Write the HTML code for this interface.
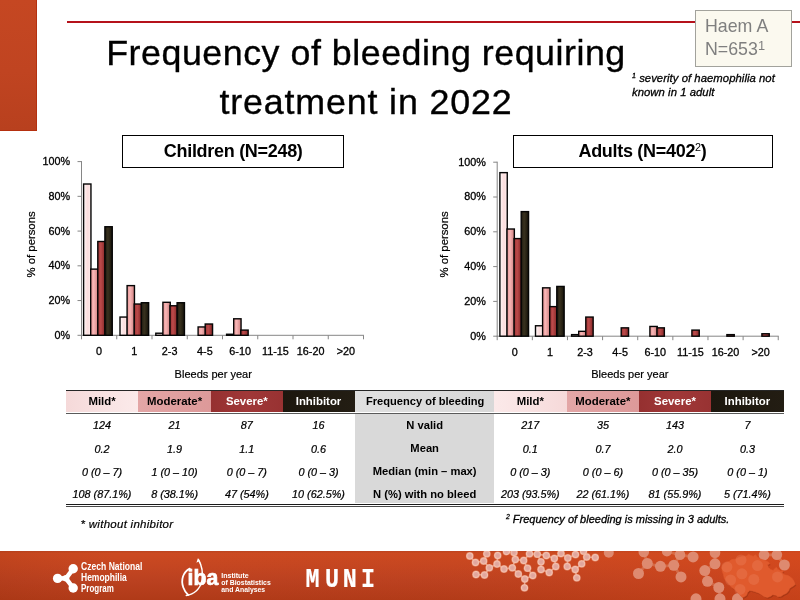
<!DOCTYPE html>
<html lang="en">
<head>
<meta charset="utf-8">
<title>Frequency of bleeding requiring treatment in 2022</title>
<style>
*{box-sizing:border-box;margin:0;padding:0}
html,body{width:800px;height:600px;overflow:hidden;background:#fff}
body{font-family:"Liberation Sans",sans-serif;color:#000;position:relative}
.abs{position:absolute}
#leftbar{left:0;top:0;width:37.4px;height:130.7px;background:linear-gradient(180deg,#c54722 0%,#c04421 55%,#b8401e 100%);border-right:0.9px solid #b5300f;border-bottom:0.9px solid #b5300f}
#topline{left:67px;top:21px;width:733px;height:2px;background:#b5121b}
#title{left:61px;top:29px;width:610px;text-align:center;font-size:35.8px;line-height:48.75px;letter-spacing:0.52px;white-space:nowrap}
#haem{left:695px;top:10px;width:97px;height:57px;background:#fbf9ef;border:1px solid #a2a29c;color:#7f7f7f;font-size:17.8px;line-height:23.7px;padding:3.6px 0 0 9px;white-space:nowrap}
sup{font-size:62%;vertical-align:baseline;position:relative;top:-0.5em}
#fn1{left:632px;top:71.7px;font-size:11.3px;line-height:13.5px;font-style:italic;white-space:nowrap;letter-spacing:0.05px}
.ctitle{height:33px;border:1.2px solid #000;background:#fff;text-align:center;font-weight:bold;font-size:18px;letter-spacing:-0.3px;line-height:30.5px;white-space:nowrap}
.ctitle sup{font-weight:normal;font-size:60%;top:-0.55em}
#ct1{left:122.3px;top:135px;width:221.8px}
#ct2{left:513.2px;top:135px;width:259.6px;padding-right:1px}
svg{font-family:"Liberation Sans",sans-serif}
.mono{font-family:"Liberation Mono",monospace;font-weight:bold}
#tbl{left:66px;top:389px;width:718px;height:118px}
.hd{position:absolute;height:21px;text-align:center;font-weight:bold;font-size:11.4px;line-height:21px;white-space:nowrap}
.hd.w{font-size:11.1px;padding-left:2px}
.c{position:absolute;height:23px;text-align:center;font-style:italic;font-size:10.8px;line-height:23px;white-space:nowrap}
.g{position:absolute;height:23px;text-align:center;font-weight:bold;font-size:11.2px;line-height:23px;white-space:nowrap;padding-left:1px}
#fn2{left:80.5px;top:516.7px;letter-spacing:0.28px;font-size:11.5px;line-height:14px;font-style:italic;white-space:nowrap}
#fn3{left:506px;top:511.6px;font-size:11px;line-height:14px;font-style:italic;white-space:nowrap}
#footer{left:0;top:551px;width:800px;height:49px;background:linear-gradient(180deg,#c5441f 0%,#c8471f 30%,#bd411d 100%);overflow:hidden}
#fn1,#fn3{-webkit-text-stroke:0.3px #000}
.c{-webkit-text-stroke:0.22px #000}
#fn2{-webkit-text-stroke:0.2px #000}
#title{-webkit-text-stroke:0.35px #000}
#haem sup{font-size:72%;top:-0.38em}
</style>
</head>
<body>
<div class="abs" id="leftbar"></div>
<div class="abs" id="topline"></div>
<div class="abs" id="title">Frequency of bleeding requiring<br><span style="letter-spacing:0.85px">treatment in 2022</span></div>
<div class="abs" id="haem">Haem A<br>N=653<sup>1</sup></div>
<div class="abs" id="fn1"><sup>1</sup> severity of haemophilia not<br>known in 1 adult</div>
<div class="abs ctitle" id="ct1">Children (N=248)</div>
<div class="abs ctitle" id="ct2">Adults (N=402<sup>2</sup>)</div>
<svg class="abs" style="left:0;top:130px" width="800" height="260" viewBox="0 130 800 260">
<defs>
<linearGradient id="g0" x1="0" x2="1" y1="0" y2="0"><stop offset="0" stop-color="#fffafa"/><stop offset="0.3" stop-color="#fde8e8"/><stop offset="0.55" stop-color="#fbdddd"/><stop offset="0.85" stop-color="#fde8e8"/><stop offset="1" stop-color="#fff4f4"/></linearGradient>
<linearGradient id="g1" x1="0" x2="1" y1="0" y2="0"><stop offset="0" stop-color="#e69494"/><stop offset="0.4" stop-color="#f8b6b6"/><stop offset="1" stop-color="#cf8080"/></linearGradient>
<linearGradient id="g2" x1="0" x2="1" y1="0" y2="0"><stop offset="0" stop-color="#9a3232"/><stop offset="0.4" stop-color="#bd4b4b"/><stop offset="1" stop-color="#842727"/></linearGradient>
<linearGradient id="g3" x1="0" x2="1" y1="0" y2="0"><stop offset="0" stop-color="#1d180e"/><stop offset="0.4" stop-color="#39321f"/><stop offset="1" stop-color="#17130a"/></linearGradient>
</defs>
<line x1="81.5" y1="161.1" x2="81.5" y2="335.8" stroke="#868686" stroke-width="1"/>
<line x1="81.0" y1="335.3" x2="364.0" y2="335.3" stroke="#868686" stroke-width="1"/>
<g font-size="10.8" stroke="#000" stroke-width="0.3">
<line x1="77.5" y1="335.30" x2="81.5" y2="335.30" stroke="#868686" stroke-width="1"/>
<text x="70.20" y="338.75" text-anchor="end">0%</text>
<line x1="77.5" y1="300.56" x2="81.5" y2="300.56" stroke="#868686" stroke-width="1"/>
<text x="70.20" y="304.01" text-anchor="end">20%</text>
<line x1="77.5" y1="265.82" x2="81.5" y2="265.82" stroke="#868686" stroke-width="1"/>
<text x="70.20" y="269.27" text-anchor="end">40%</text>
<line x1="77.5" y1="231.08" x2="81.5" y2="231.08" stroke="#868686" stroke-width="1"/>
<text x="70.20" y="234.53" text-anchor="end">60%</text>
<line x1="77.5" y1="196.34" x2="81.5" y2="196.34" stroke="#868686" stroke-width="1"/>
<text x="70.20" y="199.79" text-anchor="end">80%</text>
<line x1="77.5" y1="161.60" x2="81.5" y2="161.60" stroke="#868686" stroke-width="1"/>
<text x="70.20" y="165.05" text-anchor="end">100%</text>
<line x1="81.50" y1="335.3" x2="81.50" y2="339.3" stroke="#868686" stroke-width="1"/>
<line x1="116.75" y1="335.3" x2="116.75" y2="339.3" stroke="#868686" stroke-width="1"/>
<line x1="152.00" y1="335.3" x2="152.00" y2="339.3" stroke="#868686" stroke-width="1"/>
<line x1="187.25" y1="335.3" x2="187.25" y2="339.3" stroke="#868686" stroke-width="1"/>
<line x1="222.50" y1="335.3" x2="222.50" y2="339.3" stroke="#868686" stroke-width="1"/>
<line x1="257.75" y1="335.3" x2="257.75" y2="339.3" stroke="#868686" stroke-width="1"/>
<line x1="293.00" y1="335.3" x2="293.00" y2="339.3" stroke="#868686" stroke-width="1"/>
<line x1="328.25" y1="335.3" x2="328.25" y2="339.3" stroke="#868686" stroke-width="1"/>
<line x1="363.50" y1="335.3" x2="363.50" y2="339.3" stroke="#868686" stroke-width="1"/>
<text x="99.12" y="355.00" text-anchor="middle">0</text>
<text x="134.38" y="355.00" text-anchor="middle">1</text>
<text x="169.62" y="355.00" text-anchor="middle">2-3</text>
<text x="204.88" y="355.00" text-anchor="middle">4-5</text>
<text x="240.12" y="355.00" text-anchor="middle">6-10</text>
<text x="275.38" y="355.00" text-anchor="middle">11-15</text>
<text x="310.62" y="355.00" text-anchor="middle">16-20</text>
<text x="345.88" y="355.00" text-anchor="middle">&gt;20</text>
</g>
<rect x="83.60" y="184.01" width="7.35" height="151.29" fill="url(#g0)" stroke="#050505" stroke-width="1.4"/>
<rect x="90.70" y="269.12" width="7.35" height="66.18" fill="url(#g1)" stroke="#050505" stroke-width="1.4"/>
<rect x="97.80" y="241.50" width="7.35" height="93.80" fill="url(#g2)" stroke="#050505" stroke-width="1.4"/>
<rect x="104.90" y="226.74" width="7.35" height="108.56" fill="url(#g3)" stroke="#050505" stroke-width="1.4"/>
<rect x="120.00" y="317.06" width="7.35" height="18.24" fill="url(#g0)" stroke="#050505" stroke-width="1.4"/>
<rect x="127.10" y="285.62" width="7.35" height="49.68" fill="url(#g1)" stroke="#050505" stroke-width="1.4"/>
<rect x="134.20" y="304.03" width="7.35" height="31.27" fill="url(#g2)" stroke="#050505" stroke-width="1.4"/>
<rect x="141.30" y="302.73" width="7.35" height="32.57" fill="url(#g3)" stroke="#050505" stroke-width="1.4"/>
<rect x="155.80" y="333.22" width="7.35" height="2.08" fill="url(#g0)" stroke="#050505" stroke-width="1.4"/>
<rect x="162.90" y="302.30" width="7.35" height="33.00" fill="url(#g1)" stroke="#050505" stroke-width="1.4"/>
<rect x="170.00" y="305.77" width="7.35" height="29.53" fill="url(#g2)" stroke="#050505" stroke-width="1.4"/>
<rect x="177.10" y="302.73" width="7.35" height="32.57" fill="url(#g3)" stroke="#050505" stroke-width="1.4"/>
<rect x="198.10" y="326.96" width="7.35" height="8.34" fill="url(#g1)" stroke="#050505" stroke-width="1.4"/>
<rect x="205.20" y="324.01" width="7.35" height="11.29" fill="url(#g2)" stroke="#050505" stroke-width="1.4"/>
<rect x="226.60" y="334.26" width="7.35" height="1.04" fill="url(#g0)" stroke="#050505" stroke-width="1.4"/>
<rect x="233.70" y="318.80" width="7.35" height="16.50" fill="url(#g1)" stroke="#050505" stroke-width="1.4"/>
<rect x="240.80" y="330.09" width="7.35" height="5.21" fill="url(#g2)" stroke="#050505" stroke-width="1.4"/>
<g font-size="11.2" stroke="#000" stroke-width="0.2">
<text x="174.60" y="377.50" textLength="77.3" lengthAdjust="spacingAndGlyphs">Bleeds per year</text>
<text transform="translate(34.6,277.40) rotate(-90)" textLength="66" lengthAdjust="spacingAndGlyphs">% of persons</text>
</g>
<line x1="497.2" y1="161.7" x2="497.2" y2="336.7" stroke="#868686" stroke-width="1"/>
<line x1="496.7" y1="336.2" x2="778.74" y2="336.2" stroke="#868686" stroke-width="1"/>
<g font-size="10.8" stroke="#000" stroke-width="0.3">
<line x1="493.2" y1="336.20" x2="497.2" y2="336.20" stroke="#868686" stroke-width="1"/>
<text x="485.90" y="339.65" text-anchor="end">0%</text>
<line x1="493.2" y1="301.40" x2="497.2" y2="301.40" stroke="#868686" stroke-width="1"/>
<text x="485.90" y="304.85" text-anchor="end">20%</text>
<line x1="493.2" y1="266.60" x2="497.2" y2="266.60" stroke="#868686" stroke-width="1"/>
<text x="485.90" y="270.05" text-anchor="end">40%</text>
<line x1="493.2" y1="231.80" x2="497.2" y2="231.80" stroke="#868686" stroke-width="1"/>
<text x="485.90" y="235.25" text-anchor="end">60%</text>
<line x1="493.2" y1="197.00" x2="497.2" y2="197.00" stroke="#868686" stroke-width="1"/>
<text x="485.90" y="200.45" text-anchor="end">80%</text>
<line x1="493.2" y1="162.20" x2="497.2" y2="162.20" stroke="#868686" stroke-width="1"/>
<text x="485.90" y="165.65" text-anchor="end">100%</text>
<line x1="497.20" y1="336.2" x2="497.20" y2="340.2" stroke="#868686" stroke-width="1"/>
<line x1="532.33" y1="336.2" x2="532.33" y2="340.2" stroke="#868686" stroke-width="1"/>
<line x1="567.46" y1="336.2" x2="567.46" y2="340.2" stroke="#868686" stroke-width="1"/>
<line x1="602.59" y1="336.2" x2="602.59" y2="340.2" stroke="#868686" stroke-width="1"/>
<line x1="637.72" y1="336.2" x2="637.72" y2="340.2" stroke="#868686" stroke-width="1"/>
<line x1="672.85" y1="336.2" x2="672.85" y2="340.2" stroke="#868686" stroke-width="1"/>
<line x1="707.98" y1="336.2" x2="707.98" y2="340.2" stroke="#868686" stroke-width="1"/>
<line x1="743.11" y1="336.2" x2="743.11" y2="340.2" stroke="#868686" stroke-width="1"/>
<line x1="778.24" y1="336.2" x2="778.24" y2="340.2" stroke="#868686" stroke-width="1"/>
<text x="514.76" y="355.90" text-anchor="middle">0</text>
<text x="549.89" y="355.90" text-anchor="middle">1</text>
<text x="585.02" y="355.90" text-anchor="middle">2-3</text>
<text x="620.15" y="355.90" text-anchor="middle">4-5</text>
<text x="655.28" y="355.90" text-anchor="middle">6-10</text>
<text x="690.41" y="355.90" text-anchor="middle">11-15</text>
<text x="725.55" y="355.90" text-anchor="middle">16-20</text>
<text x="760.67" y="355.90" text-anchor="middle">&gt;20</text>
</g>
<rect x="499.90" y="172.64" width="7.35" height="163.56" fill="url(#g0)" stroke="#050505" stroke-width="1.4"/>
<rect x="507.00" y="229.02" width="7.35" height="107.18" fill="url(#g1)" stroke="#050505" stroke-width="1.4"/>
<rect x="514.10" y="238.59" width="7.35" height="97.61" fill="url(#g2)" stroke="#050505" stroke-width="1.4"/>
<rect x="521.20" y="211.62" width="7.35" height="124.58" fill="url(#g3)" stroke="#050505" stroke-width="1.4"/>
<rect x="535.50" y="325.76" width="7.35" height="10.44" fill="url(#g0)" stroke="#050505" stroke-width="1.4"/>
<rect x="542.60" y="287.83" width="7.35" height="48.37" fill="url(#g1)" stroke="#050505" stroke-width="1.4"/>
<rect x="549.70" y="306.62" width="7.35" height="29.58" fill="url(#g2)" stroke="#050505" stroke-width="1.4"/>
<rect x="556.80" y="286.44" width="7.35" height="49.76" fill="url(#g3)" stroke="#050505" stroke-width="1.4"/>
<rect x="571.60" y="334.63" width="7.35" height="1.57" fill="url(#g0)" stroke="#050505" stroke-width="1.4"/>
<rect x="578.70" y="331.33" width="7.35" height="4.87" fill="url(#g1)" stroke="#050505" stroke-width="1.4"/>
<rect x="585.80" y="317.06" width="7.35" height="19.14" fill="url(#g2)" stroke="#050505" stroke-width="1.4"/>
<rect x="621.20" y="327.85" width="7.35" height="8.35" fill="url(#g2)" stroke="#050505" stroke-width="1.4"/>
<rect x="649.90" y="326.46" width="7.35" height="9.74" fill="url(#g1)" stroke="#050505" stroke-width="1.4"/>
<rect x="657.00" y="327.85" width="7.35" height="8.35" fill="url(#g2)" stroke="#050505" stroke-width="1.4"/>
<rect x="691.90" y="330.11" width="7.35" height="6.09" fill="url(#g2)" stroke="#050505" stroke-width="1.4"/>
<rect x="726.90" y="334.63" width="7.35" height="1.57" fill="url(#g2)" stroke="#050505" stroke-width="1.4"/>
<rect x="761.90" y="333.76" width="7.35" height="2.44" fill="url(#g2)" stroke="#050505" stroke-width="1.4"/>
<g font-size="11.2" stroke="#000" stroke-width="0.2">
<text x="591.20" y="378.40" textLength="77.3" lengthAdjust="spacingAndGlyphs">Bleeds per year</text>
<text transform="translate(448.4,277.40) rotate(-90)" textLength="66" lengthAdjust="spacingAndGlyphs">% of persons</text>
</g>
</svg>
<div class="abs" style="left:65.6px;top:389.5px;width:718.2px;height:1.5px;background:#262626"></div>
<div class="abs" style="left:354.5px;top:413px;width:139.3px;height:90px;background:#d9d9d9"></div>
<div class="hd" style="left:66px;top:391.2px;width:72.6px;padding-right:0.6px;background:linear-gradient(90deg,#f5d9d9 0%,#f9e4e4 60%,#fbeaea 100%);color:#000">Mild*</div>
<div class="hd" style="left:138px;top:391.2px;width:73.8px;padding-right:0.6px;background:linear-gradient(90deg,#e3a6a6 0%,#dd9999 100%);color:#000">Moderate*</div>
<div class="hd" style="left:211.2px;top:391.2px;width:71.9px;padding-right:0.6px;background:linear-gradient(90deg,#953030 0%,#a03838 50%,#983232 100%);color:#fff">Severe*</div>
<div class="hd" style="left:282.5px;top:391.2px;width:72.6px;padding-right:0.6px;background:linear-gradient(90deg,#1c170e 0%,#231d13 100%);color:#fff">Inhibitor</div>
<div class="hd w" style="left:354.5px;top:391.2px;width:139.9px;padding-right:0.6px;background:linear-gradient(90deg,#e0e0e0 0%,#d8d8d8 100%);color:#000">Frequency of bleeding</div>
<div class="hd" style="left:493.8px;top:391.2px;width:73.6px;padding-right:0.6px;background:linear-gradient(90deg,#fbe9e9 0%,#f9e2e2 50%,#f6d9d9 100%);color:#000">Mild*</div>
<div class="hd" style="left:566.8px;top:391.2px;width:72.8px;padding-right:0.6px;background:linear-gradient(90deg,#e3a6a6 0%,#dd9999 100%);color:#000">Moderate*</div>
<div class="hd" style="left:639px;top:391.2px;width:72.6px;padding-right:0.6px;background:linear-gradient(90deg,#953030 0%,#a03838 50%,#983232 100%);color:#fff">Severe*</div>
<div class="hd" style="left:711px;top:391.2px;width:73.4px;padding-right:0.6px;background:linear-gradient(90deg,#1c170e 0%,#231d13 100%);color:#fff">Inhibitor</div>
<div class="abs" style="left:66px;top:412.6px;width:717.8px;height:1px;background:#5a5a5a"></div>
<div class="c" style="left:66px;top:414.0px;width:72.0px">124</div>
<div class="c" style="left:138px;top:414.0px;width:73.2px">21</div>
<div class="c" style="left:211.2px;top:414.0px;width:71.3px">87</div>
<div class="c" style="left:282.5px;top:414.0px;width:72.0px">16</div>
<div class="g" style="left:354.5px;top:414.0px;width:139.3px">N valid</div>
<div class="c" style="left:493.8px;top:414.0px;width:73.0px">217</div>
<div class="c" style="left:566.8px;top:414.0px;width:72.2px">35</div>
<div class="c" style="left:639px;top:414.0px;width:72.0px">143</div>
<div class="c" style="left:711px;top:414.0px;width:72.8px">7</div>
<div class="c" style="left:66px;top:438.0px;width:72.0px">0.2</div>
<div class="c" style="left:138px;top:438.0px;width:73.2px">1.9</div>
<div class="c" style="left:211.2px;top:438.0px;width:71.3px">1.1</div>
<div class="c" style="left:282.5px;top:438.0px;width:72.0px">0.6</div>
<div class="g" style="left:354.5px;top:437.0px;width:139.3px">Mean</div>
<div class="c" style="left:493.8px;top:438.0px;width:73.0px">0.1</div>
<div class="c" style="left:566.8px;top:438.0px;width:72.2px">0.7</div>
<div class="c" style="left:639px;top:438.0px;width:72.0px">2.0</div>
<div class="c" style="left:711px;top:438.0px;width:72.8px">0.3</div>
<div class="c" style="left:66px;top:460.5px;width:72.0px">0 (0 – 7)</div>
<div class="c" style="left:138px;top:460.5px;width:73.2px">1 (0 – 10)</div>
<div class="c" style="left:211.2px;top:460.5px;width:71.3px">0 (0 – 7)</div>
<div class="c" style="left:282.5px;top:460.5px;width:72.0px">0 (0 – 3)</div>
<div class="g" style="left:354.5px;top:460.0px;width:139.3px">Median (min – max)</div>
<div class="c" style="left:493.8px;top:460.5px;width:73.0px">0 (0 – 3)</div>
<div class="c" style="left:566.8px;top:460.5px;width:72.2px">0 (0 – 6)</div>
<div class="c" style="left:639px;top:460.5px;width:72.0px">0 (0 – 35)</div>
<div class="c" style="left:711px;top:460.5px;width:72.8px">0 (0 – 1)</div>
<div class="c" style="left:66px;top:483.4px;width:72.0px">108 (87.1%)</div>
<div class="c" style="left:138px;top:483.4px;width:73.2px">8 (38.1%)</div>
<div class="c" style="left:211.2px;top:483.4px;width:71.3px">47 (54%)</div>
<div class="c" style="left:282.5px;top:483.4px;width:72.0px">10 (62.5%)</div>
<div class="g" style="left:354.5px;top:483.4px;width:139.3px">N (%) with no bleed</div>
<div class="c" style="left:493.8px;top:483.4px;width:73.0px">203 (93.5%)</div>
<div class="c" style="left:566.8px;top:483.4px;width:72.2px">22 (61.1%)</div>
<div class="c" style="left:639px;top:483.4px;width:72.0px">81 (55.9%)</div>
<div class="c" style="left:711px;top:483.4px;width:72.8px">5 (71.4%)</div>
<div class="abs" style="left:65.6px;top:503.6px;width:718px;height:1px;background:#1a1a1a"></div>
<div class="abs" style="left:65.6px;top:505.8px;width:718px;height:1px;background:#4a4a4a"></div>
<div class="abs" id="fn2">* without inhibitor</div>
<div class="abs" id="fn3"><sup>2</sup> Frequency of bleeding is missing in 3 adults.</div>
<div class="abs" id="footer"><svg width="800" height="49" viewBox="0 551 800 49" style="position:absolute;left:0;top:0">
<defs>
<linearGradient id="fbg" x1="0" x2="0" y1="0" y2="1"><stop offset="0" stop-color="#bb431f"/><stop offset="0.05" stop-color="#cc4a21"/><stop offset="0.3" stop-color="#c54621"/><stop offset="0.6" stop-color="#bb4120"/><stop offset="1" stop-color="#b03a18"/></linearGradient>
<linearGradient id="fbx" x1="0" x2="1" y1="0" y2="0"><stop offset="0" stop-color="#8a2a08" stop-opacity="0.14"/><stop offset="0.15" stop-color="#b03a14" stop-opacity="0"/><stop offset="0.55" stop-color="#d5481c" stop-opacity="0.05"/><stop offset="1" stop-color="#e04a1a" stop-opacity="0.45"/></linearGradient>
<radialGradient id="sc"><stop offset="0" stop-color="#dea39a"/><stop offset="0.5" stop-color="#e4aaa0"/><stop offset="0.78" stop-color="#f4c0ad"/><stop offset="1" stop-color="#f0ae96" stop-opacity="0.7"/></radialGradient>
</defs>
<rect x="0" y="551" width="800" height="49" fill="url(#fbg)"/>
<rect x="0" y="551" width="800" height="49" fill="url(#fbx)"/>
<g stroke="#f0b8a0" stroke-opacity="0.3" stroke-width="2.8">
<line x1="643.8" y1="551.9" x2="647.3" y2="563.5"/>
<line x1="647.3" y1="563.5" x2="638.5" y2="573.5"/>
<line x1="647.3" y1="563.5" x2="660.4" y2="566.3"/>
<line x1="660.4" y1="566.3" x2="673.8" y2="565.3"/>
<line x1="673.8" y1="565.3" x2="680" y2="554.8"/>
<line x1="673.8" y1="565.3" x2="681" y2="576.9"/>
<line x1="680" y1="554.8" x2="693.1" y2="556.9"/>
<line x1="666.9" y1="551.5" x2="680" y2="554.8"/>
<line x1="715" y1="552.8" x2="715" y2="563.8"/>
<line x1="715" y1="563.8" x2="704.8" y2="570.6"/>
<line x1="704.8" y1="570.6" x2="707.5" y2="581.3"/>
<line x1="707.5" y1="581.3" x2="718.8" y2="587.5"/>
<line x1="718.8" y1="587.5" x2="720" y2="598.8"/>
<line x1="764" y1="555" x2="776.9" y2="554.8"/>
<line x1="776.9" y1="554.8" x2="784.4" y2="565"/>
</g>
<g fill="#de8a70">
<circle cx="608.8" cy="552.8" r="5"/>
<circle cx="643.8" cy="551.9" r="5.3"/>
<circle cx="647.3" cy="563.5" r="5.5"/>
<circle cx="638.5" cy="573.5" r="5.5"/>
<circle cx="660.4" cy="566.3" r="5.5"/>
<circle cx="666.9" cy="551.5" r="5"/>
<circle cx="673.8" cy="565.3" r="5.5"/>
<circle cx="680" cy="554.8" r="5.3"/>
<circle cx="681" cy="576.9" r="5.5"/>
<circle cx="693.1" cy="556.9" r="5.5"/>
<circle cx="704.8" cy="570.6" r="5.5"/>
<circle cx="696" cy="598.8" r="5.5"/>
<circle cx="715" cy="552.8" r="5.3"/>
<circle cx="715" cy="563.8" r="5.5"/>
<circle cx="707.5" cy="581.3" r="5.5"/>
<circle cx="718.8" cy="587.5" r="5.5"/>
<circle cx="720" cy="598.8" r="5.5"/>
<circle cx="737.5" cy="598.8" r="5.5"/>
<circle cx="764" cy="555" r="5.3"/>
<circle cx="776.9" cy="554.8" r="5.3"/>
<circle cx="784.4" cy="565" r="5.5"/>
</g>
<polygon points="721.8,568.0 722.8,564.8 725.5,562.7 729.7,561.1 731.8,559.6 736.0,559.0 738.6,557.5 742.3,556.4 746.5,555.9 748.6,554.3 750.7,555.4 753.3,556.4 755.4,554.8 757.5,556.9 759.1,558.5 762.2,559.6 765.4,560.6 768.5,562.2 769.6,563.8 767.5,564.8 768.5,567.4 770.6,569.5 773.2,570.6 774.8,568.5 776.4,567.4 778.0,569.5 780.6,571.1 783.2,570.6 782.2,572.7 784.3,574.8 788.5,575.8 791.6,577.9 793.7,580.6 795.3,584.2 793.7,585.8 791.6,586.9 789.5,588.4 788.5,591.1 786.4,593.2 783.2,594.7 781.1,596.3 778.0,596.8 775.9,595.3 772.7,594.7 770.6,596.3 767.5,597.4 764.3,596.8 762.2,595.3 759.1,593.2 755.9,592.1 752.8,591.1 749.6,590.5 747.5,592.6 746.5,595.3 744.4,596.8 742.3,597.4 740.2,595.3 737.0,592.1 734.9,589.5 731.8,587.4 729.7,585.3 726.5,581.6 724.4,578.5 723.4,574.3 722.3,571.1" fill="#3a0d00" fill-opacity="0.2" transform="translate(1,1.3)"/>
<polygon points="721.8,568.0 722.8,564.8 725.5,562.7 729.7,561.1 731.8,559.6 736.0,559.0 738.6,557.5 742.3,556.4 746.5,555.9 748.6,554.3 750.7,555.4 753.3,556.4 755.4,554.8 757.5,556.9 759.1,558.5 762.2,559.6 765.4,560.6 768.5,562.2 769.6,563.8 767.5,564.8 768.5,567.4 770.6,569.5 773.2,570.6 774.8,568.5 776.4,567.4 778.0,569.5 780.6,571.1 783.2,570.6 782.2,572.7 784.3,574.8 788.5,575.8 791.6,577.9 793.7,580.6 795.3,584.2 793.7,585.8 791.6,586.9 789.5,588.4 788.5,591.1 786.4,593.2 783.2,594.7 781.1,596.3 778.0,596.8 775.9,595.3 772.7,594.7 770.6,596.3 767.5,597.4 764.3,596.8 762.2,595.3 759.1,593.2 755.9,592.1 752.8,591.1 749.6,590.5 747.5,592.6 746.5,595.3 744.4,596.8 742.3,597.4 740.2,595.3 737.0,592.1 734.9,589.5 731.8,587.4 729.7,585.3 726.5,581.6 724.4,578.5 723.4,574.3 722.3,571.1" fill="#e05a2d" stroke="#e05a2d" stroke-width="0.6" stroke-linejoin="round"/>
<g fill="#f6b79c" fill-opacity="0.16">
<circle cx="726.9" cy="566.9" r="5.5"/>
<circle cx="741" cy="560" r="5.5"/>
<circle cx="741.9" cy="573.8" r="5.5"/>
<circle cx="730.6" cy="580" r="5.5"/>
<circle cx="740" cy="589.4" r="5.5"/>
<circle cx="753.8" cy="579.4" r="5.5"/>
<circle cx="757.5" cy="565.6" r="5.5"/>
<circle cx="777.5" cy="576.9" r="5.5"/>
</g>
<g stroke="#f3b9a4" stroke-opacity="0.8" stroke-width="1.6">
<line x1="469.8" y1="556" x2="475.5" y2="562.5"/>
<line x1="475.5" y1="562.5" x2="483.7" y2="561"/>
<line x1="483.7" y1="561" x2="486.8" y2="553.8"/>
<line x1="483.7" y1="561" x2="489.3" y2="567.8"/>
<line x1="476" y1="574.5" x2="484.5" y2="575"/>
<line x1="484.5" y1="575" x2="489.3" y2="567.8"/>
<line x1="489.3" y1="567.8" x2="497" y2="564"/>
<line x1="497" y1="564" x2="497.7" y2="555.5"/>
<line x1="497" y1="564" x2="504" y2="569"/>
<line x1="504" y1="569" x2="512.3" y2="567.8"/>
<line x1="512.3" y1="567.8" x2="515.3" y2="559.5"/>
<line x1="515.3" y1="559.5" x2="514" y2="552.5"/>
<line x1="512.3" y1="567.8" x2="518.3" y2="574"/>
<line x1="518.3" y1="574" x2="524.8" y2="579"/>
<line x1="524.8" y1="579" x2="524.5" y2="587.8"/>
<line x1="524.8" y1="579" x2="532.8" y2="575.5"/>
<line x1="515.3" y1="559.5" x2="523.7" y2="560.5"/>
<line x1="523.7" y1="560.5" x2="527.5" y2="568.2"/>
<line x1="523.7" y1="560.5" x2="529.5" y2="553.8"/>
<line x1="529.5" y1="553.8" x2="537.3" y2="554.2"/>
<line x1="537.3" y1="554.2" x2="541" y2="561.8"/>
<line x1="537.3" y1="554.2" x2="546.3" y2="555.5"/>
<line x1="541" y1="561.8" x2="541" y2="569.5"/>
<line x1="541" y1="569.5" x2="549.2" y2="572.5"/>
<line x1="546.3" y1="555.5" x2="554.3" y2="558.5"/>
<line x1="554.3" y1="558.5" x2="555.8" y2="566.5"/>
<line x1="554.3" y1="558.5" x2="561" y2="553.5"/>
<line x1="555.8" y1="566.5" x2="549.2" y2="572.5"/>
<line x1="567.2" y1="566.5" x2="567.8" y2="558"/>
<line x1="567.8" y1="558" x2="561" y2="553.5"/>
<line x1="567.2" y1="566.5" x2="575.2" y2="569.5"/>
<line x1="575.2" y1="569.5" x2="576.8" y2="577.8"/>
<line x1="575.2" y1="569.5" x2="581.7" y2="563.8"/>
<line x1="581.7" y1="563.8" x2="586.7" y2="557"/>
<line x1="586.7" y1="557" x2="595.2" y2="557.5"/>
<line x1="586.7" y1="557" x2="583.5" y2="551.2"/>
<line x1="567.8" y1="558" x2="575.5" y2="554.5"/>
<line x1="527.5" y1="568.2" x2="532.8" y2="575.5"/>
</g>
<g>
<circle cx="469.8" cy="556" r="3.9" fill="url(#sc)"/>
<circle cx="475.5" cy="562.5" r="3.9" fill="url(#sc)"/>
<circle cx="476" cy="574.5" r="3.9" fill="url(#sc)"/>
<circle cx="483.7" cy="561" r="3.9" fill="url(#sc)"/>
<circle cx="484.5" cy="575" r="3.9" fill="url(#sc)"/>
<circle cx="486.8" cy="553.8" r="3.9" fill="url(#sc)"/>
<circle cx="489.3" cy="567.8" r="3.9" fill="url(#sc)"/>
<circle cx="497" cy="564" r="3.9" fill="url(#sc)"/>
<circle cx="497.7" cy="555.5" r="3.9" fill="url(#sc)"/>
<circle cx="504" cy="569" r="3.9" fill="url(#sc)"/>
<circle cx="506.5" cy="551.5" r="3.9" fill="url(#sc)"/>
<circle cx="512.3" cy="567.8" r="3.9" fill="url(#sc)"/>
<circle cx="514" cy="552.5" r="3.9" fill="url(#sc)"/>
<circle cx="515.3" cy="559.5" r="3.9" fill="url(#sc)"/>
<circle cx="518.3" cy="574" r="3.9" fill="url(#sc)"/>
<circle cx="523.7" cy="560.5" r="3.9" fill="url(#sc)"/>
<circle cx="524.8" cy="579" r="3.9" fill="url(#sc)"/>
<circle cx="524.5" cy="587.8" r="3.9" fill="url(#sc)"/>
<circle cx="527.5" cy="568.2" r="3.9" fill="url(#sc)"/>
<circle cx="529.5" cy="553.8" r="3.9" fill="url(#sc)"/>
<circle cx="532.8" cy="575.5" r="3.9" fill="url(#sc)"/>
<circle cx="537.3" cy="554.2" r="3.9" fill="url(#sc)"/>
<circle cx="541" cy="561.8" r="3.9" fill="url(#sc)"/>
<circle cx="541" cy="569.5" r="3.9" fill="url(#sc)"/>
<circle cx="546.3" cy="555.5" r="3.9" fill="url(#sc)"/>
<circle cx="549.2" cy="572.5" r="3.9" fill="url(#sc)"/>
<circle cx="554.3" cy="558.5" r="3.9" fill="url(#sc)"/>
<circle cx="555.8" cy="566.5" r="3.9" fill="url(#sc)"/>
<circle cx="561" cy="553.5" r="3.9" fill="url(#sc)"/>
<circle cx="567.2" cy="566.5" r="3.9" fill="url(#sc)"/>
<circle cx="567.8" cy="558" r="3.9" fill="url(#sc)"/>
<circle cx="575.2" cy="569.5" r="3.9" fill="url(#sc)"/>
<circle cx="575.5" cy="554.5" r="3.9" fill="url(#sc)"/>
<circle cx="576.8" cy="577.8" r="3.9" fill="url(#sc)"/>
<circle cx="581.7" cy="563.8" r="3.9" fill="url(#sc)"/>
<circle cx="583.5" cy="551.2" r="3.9" fill="url(#sc)"/>
<circle cx="586.7" cy="557" r="3.9" fill="url(#sc)"/>
<circle cx="595.2" cy="557.5" r="3.9" fill="url(#sc)"/>
</g>
<g fill="#fff" stroke="none">
<circle cx="73.2" cy="568.8" r="4.7"/><circle cx="57.6" cy="578.4" r="4.7"/><circle cx="73.2" cy="588" r="4.7"/><circle cx="66" cy="578.3" r="3.3"/>
</g>
<g stroke="#fff" stroke-width="4.5" stroke-linecap="round" fill="none"><line x1="66" y1="578.3" x2="73.2" y2="568.8"/><line x1="66" y1="578.3" x2="57.6" y2="578.4"/><line x1="66" y1="578.3" x2="73.2" y2="588"/></g>
<g fill="#fff" font-family="'Liberation Sans',sans-serif" font-weight="bold" font-size="10.3">
<text x="81" y="570" textLength="61.5" lengthAdjust="spacingAndGlyphs">Czech National</text>
<text x="81" y="580.6" textLength="45.8" lengthAdjust="spacingAndGlyphs">Hemophilia</text>
<text x="81" y="591.6" textLength="32.8" lengthAdjust="spacingAndGlyphs">Program</text>
</g>
<g fill="none" stroke="#fff" stroke-linecap="round">
<path d="M189.8 568.6 C183 572 180.6 580 183.3 587.5 C184.4 590.6 186 593 188.2 595" stroke-width="1.8"/>
<path d="M186.3 595.4 C194 594.6 200.5 589 202 580 C203.2 572.5 201.5 565 198.6 559.8" stroke-width="1.5"/>
</g>
<path d="M198 558 L196.4 562.8 L198.7 561.6 L200.9 563 Z" fill="#fff"/>
<g fill="#fff" font-family="'Liberation Sans',sans-serif" font-weight="bold">
<text x="187.6" y="584.7" font-size="21.5" textLength="30.6" lengthAdjust="spacingAndGlyphs" stroke="#fff" stroke-width="0.7">iba</text>
<g font-size="6.8"><text x="221.2" y="577.8" textLength="27.5" lengthAdjust="spacingAndGlyphs">Institute</text>
<text x="221.2" y="585" textLength="49.6" lengthAdjust="spacingAndGlyphs">of Biostatistics</text>
<text x="221.2" y="592" textLength="44" lengthAdjust="spacingAndGlyphs">and Analyses</text></g>
</g>
<g fill="#fff" stroke="#fff" stroke-width="0.2" class="mono" font-size="27.5">
<text transform="translate(0,586.5) scale(0.85,1)" x="359.41 382.35 403.29 424.71" y="0">MUNI</text>
</g>
</svg></div>
</body>
</html>
